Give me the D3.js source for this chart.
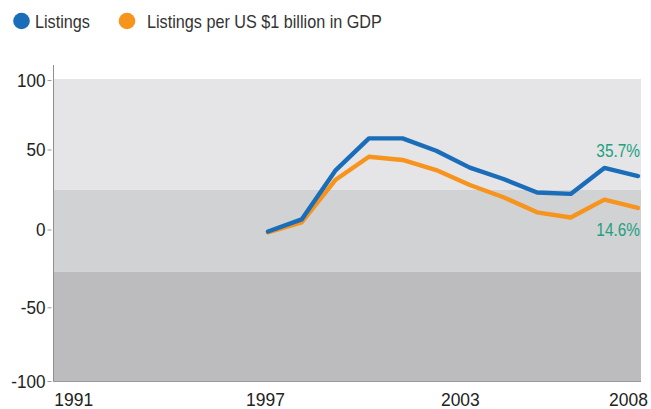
<!DOCTYPE html>
<html>
<head>
<meta charset="utf-8">
<script src="https://cdn.jsdelivr.net/npm/d3@7"></script>
<style>
  html, body { margin: 0; padding: 0; background: #ffffff; }
  svg { display: block; }
  text { font-family: "Liberation Sans", Arial, sans-serif; }
</style>
</head>
<body>
<svg id="chart" width="651" height="409"></svg>
<script>
// ---- Data ----
const years = [1997, 1998, 1999, 2000, 2001, 2002, 2003, 2004, 2005, 2006, 2007, 2008];
const listings = [-1, 7, 39.3, 60.7, 60.7, 52.5, 41.3, 33.8, 24.8, 23.9, 41.1, 35.7];
const listingsPerGDP = [-1.5, 5, 33.1, 48.5, 46.4, 39.7, 29.8, 21.7, 11.7, 8.3, 20.1, 14.6];
const seriesNames = ["Listings", "Listings per US $1 billion in GDP"];
const endLabels = ["35.7%", "14.6%"];
const xTickValues = [1991, 1997, 2003, 2008];
const yTickValues = [100, 50, 0, -50, -100];
const bandBreaks = [100, 26.5, -27.6, -100];

// ---- Styles ----
const colors = ["#1a6db8", "#f7941d"];
const bandColors = ["#e5e5e7", "#d1d2d4", "#bcbcbe"];
const annotColor = "#21a07e";
const narrowK = 0.9;

const svg = d3.select("#chart");
const plotLeft = 54, plotRight = 641, plotTop = 79, plotBottom = 381;

const x = d3.scaleLinear().domain([1991, 2008]).range([66.2, 638]);
const y = d3.scaleLinear().domain([-100, 100]).range([plotBottom, plotTop]);
// tick positions as printed in the reference
const yAxisScale = d3.scaleLinear().domain([-100, -50, 0, 50, 100]).range([381, 307.3, 229.5, 149.5, 80]);

function narrowText(sel, px, py, k) {
  sel.attr("x", 0).attr("y", 0)
     .attr("transform", `translate(${px},${py}) scale(${k},1)`);
}

// Bands
svg.append("g").selectAll("rect")
  .data(d3.range(bandBreaks.length - 1))
  .join("rect")
  .attr("x", plotLeft)
  .attr("width", plotRight - plotLeft)
  .attr("y", i => y(bandBreaks[i]))
  .attr("height", i => y(bandBreaks[i + 1]) - y(bandBreaks[i]))
  .attr("fill", i => bandColors[i]);

// Y axis
const yAxis = svg.append("g")
  .attr("transform", `translate(${plotLeft - 0.5},0)`)
  .call(d3.axisLeft(yAxisScale).tickValues(yTickValues).tickSize(4).tickPadding(2).tickFormat(d => String(d)));
yAxis.select(".domain").remove();
yAxis.selectAll(".tick line").attr("stroke", "#9a9a9a").attr("x1", -2).attr("x2", -6);
yAxis.selectAll(".tick text")
  .attr("font-size", 18)
  .attr("fill", "#222")
  .attr("dy", "0.36em")
  .each(function () { narrowText(d3.select(this), -8, 0, 0.95); });
svg.append("line")
  .attr("x1", plotLeft - 0.5).attr("x2", plotLeft - 0.5)
  .attr("y1", 65).attr("y2", plotBottom)
  .attr("stroke", "#8f8f8f").attr("stroke-width", 1);

// X axis
const xDx = {1991: 7, 1997: -3, 2003: -10, 2008: -10};
const xAxis = svg.append("g")
  .attr("transform", `translate(0,${plotBottom})`)
  .call(d3.axisBottom(x).tickValues(xTickValues).tickSize(0).tickPadding(0).tickFormat(d => String(d)));
xAxis.select(".domain").remove();
xAxis.selectAll(".tick text")
  .attr("font-size", 18)
  .attr("fill", "#222")
  .attr("dy", 0)
  .each(function (d) { narrowText(d3.select(this), xDx[d], 24.5, 0.97); });
svg.append("line")
  .attr("x1", plotLeft - 1).attr("x2", plotRight)
  .attr("y1", plotBottom + 0.5).attr("y2", plotBottom + 0.5)
  .attr("stroke", "#9a9a9a").attr("stroke-width", 1);

// Lines
const line = d3.line().x((d, i) => x(years[i])).y(d => y(d));
[[listingsPerGDP, colors[1]], [listings, colors[0]]].forEach(([vals, c]) => {
  svg.append("path")
    .datum(vals)
    .attr("d", line)
    .attr("fill", "none")
    .attr("stroke", c)
    .attr("stroke-width", 4.4)
    .attr("stroke-linejoin", "round")
    .attr("stroke-linecap", "round");
});

// End labels
const last = years.length - 1;
narrowText(svg.append("text")
  .attr("text-anchor", "end").attr("font-size", 17.5).attr("fill", annotColor)
  .text(endLabels[0]), 640, y(listings[last]) - 19, 0.88);
narrowText(svg.append("text")
  .attr("text-anchor", "end").attr("font-size", 17.5).attr("fill", annotColor)
  .text(endLabels[1]), 640, y(listingsPerGDP[last]) + 28, 0.88);

// Legend
const legendX = [21.5, 127];
const legendTextDx = [13.5, 20];
seriesNames.forEach((name, i) => {
  const g = svg.append("g").attr("transform", `translate(${legendX[i]},21)`);
  g.append("circle").attr("r", 8.3).attr("fill", colors[i]);
  narrowText(g.append("text").attr("font-size", 18).attr("fill", "#333").text(name), legendTextDx[i], 7, narrowK);
});
</script>
</body>
</html>
